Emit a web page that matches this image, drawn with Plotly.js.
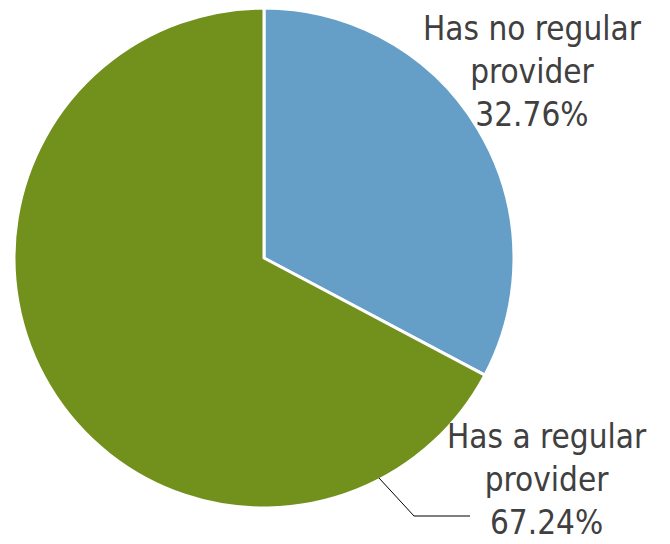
<!DOCTYPE html>
<html>
<head>
<meta charset="utf-8">
<script src="https://cdn.plot.ly/plotly-3.0.1.min.js"></script>
<style>html,body{margin:0;padding:0;background:#fff;}#chart{width:670px;height:544px;}</style>
</head>
<body>
<div id="chart"></div>
<script>
const categories = ["Has no regular provider", "Has a regular provider"];
const labelLines = ["Has no regular<br>provider", "Has a regular<br>provider"];
const values = [32.76, 67.24];
const colors = ["#659FC7", "#71901C"];

const W = 670, H = 544;
const px = x => x / W;
const py = y => 1 - y / H;

const font = {family: "'DejaVu Sans Condensed', 'Liberation Sans Narrow', sans-serif", size: 33, color: "#404040"};

const trace = {
  type: "pie",
  labels: categories,
  values: values,
  sort: false,
  direction: "clockwise",
  rotation: 0,
  textinfo: "none",
  hoverinfo: "label+percent",
  marker: {colors: colors, line: {color: "#ffffff", width: 3}},
  domain: {x: [px(14), px(514)], y: [py(508), py(8)]},
  showlegend: false
};

const annPos = [{x: 532, y: 72}, {x: 547, y: 479}];
const annotations = categories.map((c, i) => ({
  xref: "paper", yref: "paper",
  x: px(annPos[i].x), y: py(annPos[i].y),
  xanchor: "center", yanchor: "middle",
  showarrow: false,
  align: "center",
  text: labelLines[i] + "<br>" + values[i].toFixed(2) + "%",
  font: font
}));

const layout = {
  width: W, height: H,
  margin: {l: 0, r: 0, t: 0, b: 0},
  paper_bgcolor: "#ffffff",
  annotations: annotations,
  shapes: [{
    type: "path", xref: "paper", yref: "paper",
    path: `M ${px(379)} ${py(478)} L ${px(414)} ${py(516)} L ${px(470)} ${py(516)}`,
    line: {color: "#000000", width: 1}
  }]
};

Plotly.newPlot("chart", [trace], layout, {displayModeBar: false, staticPlot: true});
</script>
</body>
</html>
